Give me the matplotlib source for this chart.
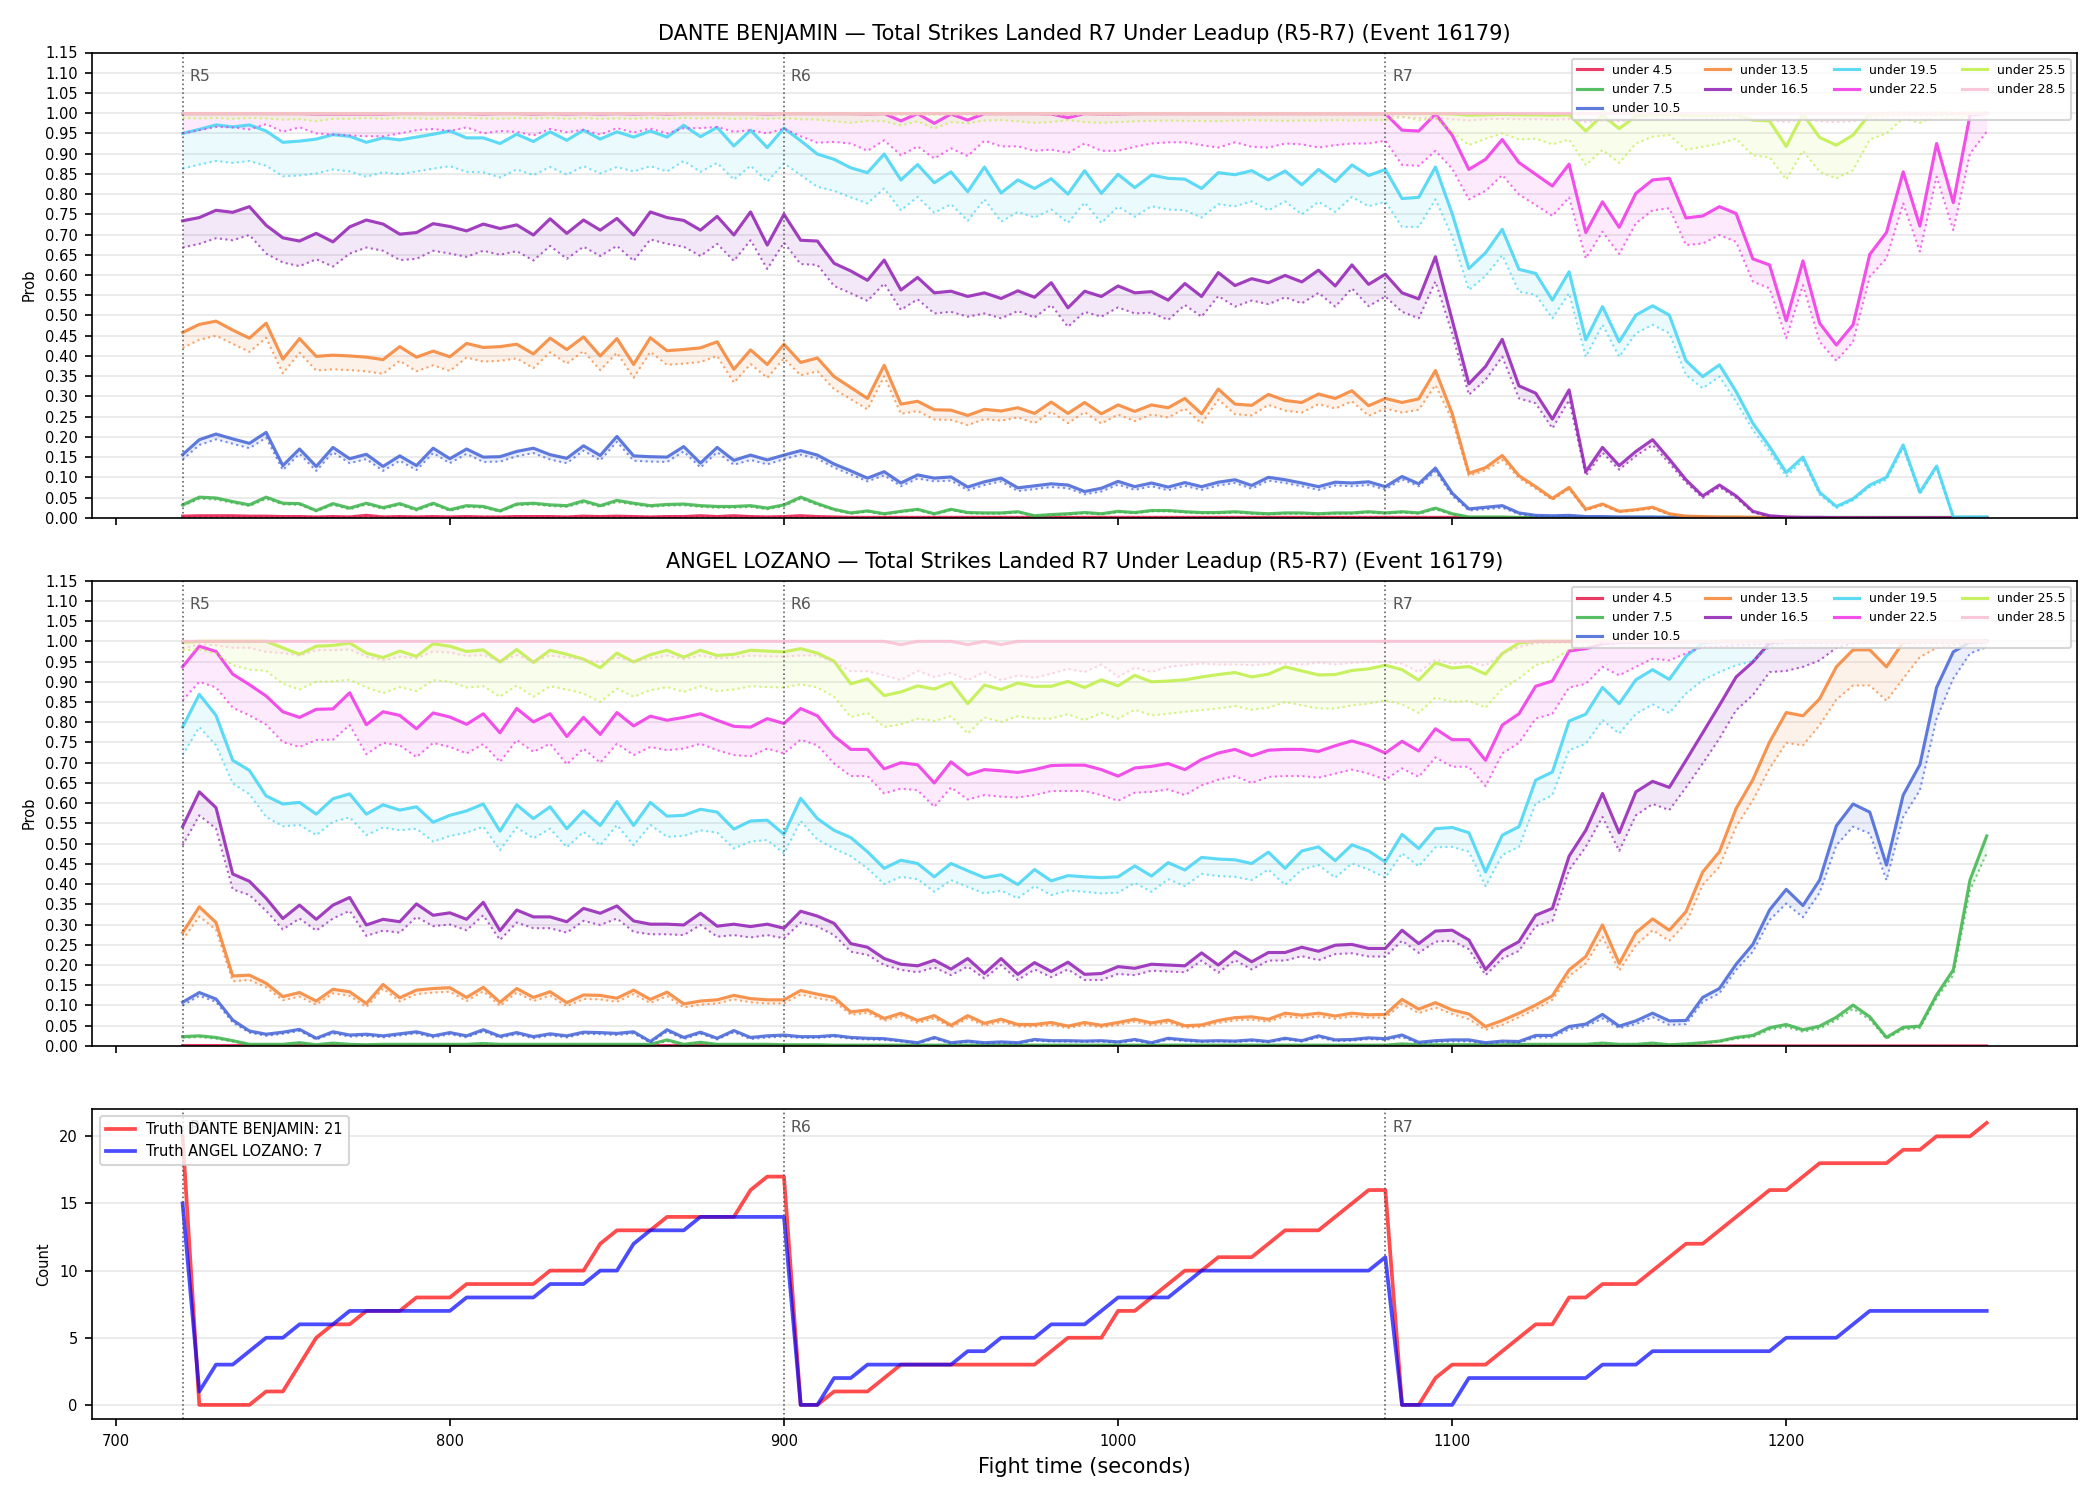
import numpy as np
import matplotlib.pyplot as plt
from matplotlib import rcParams
from matplotlib.ticker import FormatStrFormatter

rcParams.update({'font.size': 7, 'axes.axisbelow': True})

TIMES = list(range(720, 1261, 5))
ROUND_STARTS = [720, 900, 1080]
ROUND_NAMES = ['R5', 'R6', 'R7']
LINES = ['4.5', '7.5', '10.5', '13.5', '16.5', '19.5', '22.5', '25.5', '28.5']
COLORS = ['#e6194b', '#3cb44b', '#4363d8', '#f58231', '#911eb4',
          '#42d4f4', '#f032e6', '#bfef45', '#fabed4']
EVENT = 'Total Strikes Landed R7 Under Leadup (R5-R7) (Event 16179)'

# ---------------- DANTE BENJAMIN (model prob, solid) / lower (dotted) ----------------
d_u45 = ([0.004, 0.005, 0.005, 0.005, 0.004, 0.004, 0.003, 0.003, 0.002, 0.003, 0.002, 0.006, 0.002,
          0.003, 0.002, 0.003, 0.002, 0.003, 0.002, 0.002, 0.003, 0.003, 0.003, 0.002, 0.004, 0.003,
          0.004, 0.003, 0.002, 0.003, 0.003, 0.005, 0.003, 0.005, 0.003, 0.002, 0.003]
         + [0.005, 0.003, 0.002] + [0.001] * 33 + [0.001] * 4 + [0.0] * 32)
d_u45_lo = [0.002] * 37 + [0.001] * 36 + [0.0] * 36

d_u75 = [0.032, 0.051, 0.049, 0.040, 0.032, 0.051, 0.036, 0.035, 0.018, 0.035, 0.024, 0.036, 0.025,
         0.035, 0.021, 0.036, 0.020, 0.030, 0.028, 0.017, 0.034, 0.036, 0.032, 0.030, 0.042, 0.030,
         0.043, 0.036, 0.030, 0.033, 0.034, 0.030, 0.028, 0.028, 0.030, 0.024, 0.032,
         0.051, 0.035, 0.021, 0.012, 0.017, 0.010, 0.016, 0.021, 0.010, 0.021, 0.013, 0.012, 0.012,
         0.015, 0.005, 0.008, 0.010, 0.013, 0.010, 0.016, 0.013, 0.018, 0.018, 0.015, 0.013, 0.013,
         0.015, 0.012, 0.010, 0.012, 0.012, 0.010, 0.012, 0.012, 0.015, 0.012,
         0.015, 0.012, 0.024, 0.010, 0.002, 0.002, 0.002] + [0.001] * 29
d_u75_lo = [0.029, 0.047, 0.045, 0.037, 0.029, 0.047, 0.033, 0.032, 0.016, 0.032, 0.021, 0.033, 0.022,
            0.032, 0.018, 0.033, 0.017, 0.027, 0.025, 0.015, 0.031, 0.033, 0.029, 0.027, 0.038, 0.027,
            0.039, 0.033, 0.027, 0.030, 0.031, 0.027, 0.025, 0.025, 0.027, 0.021, 0.029,
            0.047, 0.032, 0.019, 0.010, 0.015, 0.008, 0.014, 0.019, 0.008, 0.019, 0.011, 0.010, 0.010,
            0.013, 0.004, 0.006, 0.008, 0.011, 0.008, 0.014, 0.011, 0.016, 0.016, 0.013, 0.011, 0.011,
            0.013, 0.010, 0.008, 0.010, 0.010, 0.008, 0.010, 0.010, 0.013, 0.010,
            0.013, 0.010, 0.021, 0.008, 0.001, 0.001, 0.001] + [0.0] * 29

d_u105 = [0.156, 0.193, 0.207, 0.195, 0.184, 0.211, 0.129, 0.170, 0.127, 0.174,
          0.146, 0.157, 0.127, 0.153, 0.129, 0.172, 0.146, 0.170, 0.150, 0.151,
          0.164, 0.172, 0.156, 0.147, 0.178, 0.154, 0.201, 0.153, 0.151, 0.150,
          0.176, 0.135, 0.174, 0.142, 0.155, 0.143, 0.155,
          0.166, 0.155, 0.133, 0.116, 0.098, 0.114, 0.086, 0.106, 0.098, 0.101,
          0.076, 0.089, 0.098, 0.074, 0.079, 0.084, 0.081, 0.065, 0.073, 0.090,
          0.077, 0.086, 0.076, 0.087, 0.077, 0.088, 0.094, 0.080, 0.100, 0.094,
          0.086, 0.077, 0.088, 0.086, 0.089, 0.077,
          0.102, 0.084, 0.123, 0.061, 0.022, 0.026, 0.030, 0.012, 0.006, 0.005,
          0.006, 0.003, 0.003, 0.002, 0.002, 0.002, 0.001, 0.001, 0.001] + [0.0] * 17
d_u105_lo = [0.144, 0.180, 0.194, 0.183, 0.172, 0.198, 0.118, 0.158, 0.116, 0.162,
             0.135, 0.145, 0.116, 0.141, 0.118, 0.160, 0.135, 0.158, 0.138, 0.139,
             0.152, 0.160, 0.144, 0.135, 0.166, 0.142, 0.188, 0.141, 0.139, 0.138,
             0.164, 0.124, 0.162, 0.131, 0.143, 0.132, 0.145,
             0.156, 0.146, 0.124, 0.107, 0.090, 0.105, 0.078, 0.097, 0.090, 0.092,
             0.068, 0.081, 0.090, 0.066, 0.071, 0.076, 0.073, 0.058, 0.065, 0.082,
             0.069, 0.078, 0.068, 0.079, 0.069, 0.080, 0.086, 0.072, 0.092, 0.086,
             0.078, 0.069, 0.080, 0.078, 0.081, 0.070,
             0.095, 0.078, 0.115, 0.055, 0.018, 0.021, 0.025, 0.009, 0.004, 0.003,
             0.004, 0.002, 0.002, 0.001, 0.001, 0.001, 0.0, 0.0, 0.0] + [0.0] * 17

d_u135 = [0.458, 0.478, 0.486, 0.464, 0.444, 0.481, 0.392, 0.443, 0.399, 0.402,
          0.400, 0.397, 0.391, 0.423, 0.397, 0.412, 0.398, 0.431, 0.421, 0.423,
          0.429, 0.405, 0.444, 0.416, 0.447, 0.400, 0.443, 0.379, 0.445, 0.413,
          0.416, 0.420, 0.435, 0.367, 0.415, 0.379, 0.429,
          0.384, 0.395, 0.349, 0.322, 0.295, 0.377, 0.281, 0.288, 0.267, 0.266,
          0.253, 0.268, 0.264, 0.272, 0.258, 0.286, 0.258, 0.285, 0.257, 0.279,
          0.263, 0.279, 0.272, 0.295, 0.257, 0.318, 0.281, 0.278, 0.305, 0.290,
          0.285, 0.306, 0.295, 0.314, 0.277, 0.295,
          0.285, 0.294, 0.364, 0.258, 0.110, 0.124, 0.154, 0.104, 0.077, 0.048,
          0.075, 0.021, 0.034, 0.016, 0.020, 0.026, 0.010, 0.004, 0.003, 0.002,
          0.002, 0.001, 0.001, 0.001] + [0.0] * 12
d_u135_lo = [0.420, 0.440, 0.450, 0.430, 0.410, 0.445, 0.357, 0.408, 0.364, 0.367,
             0.365, 0.362, 0.356, 0.388, 0.362, 0.377, 0.363, 0.396, 0.386, 0.388,
             0.394, 0.370, 0.409, 0.381, 0.412, 0.365, 0.408, 0.346, 0.410, 0.378,
             0.381, 0.385, 0.400, 0.334, 0.380, 0.346, 0.394,
             0.352, 0.362, 0.318, 0.293, 0.268, 0.350, 0.257, 0.264, 0.243, 0.242,
             0.229, 0.244, 0.240, 0.248, 0.234, 0.262, 0.234, 0.261, 0.233, 0.255,
             0.239, 0.255, 0.248, 0.270, 0.233, 0.292, 0.256, 0.253, 0.279, 0.265,
             0.260, 0.281, 0.270, 0.288, 0.252, 0.270,
             0.260, 0.267, 0.328, 0.242, 0.104, 0.117, 0.143, 0.098, 0.072, 0.044,
             0.071, 0.018, 0.031, 0.014, 0.018, 0.023, 0.008, 0.003, 0.002, 0.001,
             0.001] + [0.0] * 15

d_u165 = [0.734, 0.742, 0.760, 0.755, 0.769, 0.723, 0.692, 0.684, 0.703, 0.682,
          0.719, 0.736, 0.726, 0.701, 0.705, 0.727, 0.720, 0.709, 0.726, 0.715,
          0.724, 0.699, 0.739, 0.703, 0.736, 0.711, 0.740, 0.699, 0.756, 0.742,
          0.735, 0.711, 0.745, 0.699, 0.756, 0.674, 0.750,
          0.686, 0.684, 0.629, 0.610, 0.587, 0.637, 0.563, 0.594, 0.556, 0.560,
          0.547, 0.556, 0.542, 0.561, 0.545, 0.581, 0.519, 0.560, 0.547, 0.573,
          0.556, 0.559, 0.538, 0.579, 0.547, 0.606, 0.574, 0.591, 0.581, 0.599,
          0.583, 0.612, 0.573, 0.625, 0.577, 0.602,
          0.556, 0.541, 0.645, 0.489, 0.331, 0.374, 0.441, 0.326, 0.308, 0.244,
          0.316, 0.114, 0.174, 0.129, 0.164, 0.193, 0.145, 0.094, 0.054, 0.081,
          0.054, 0.016, 0.005, 0.002, 0.001, 0.001] + [0.0] * 10
d_u165_lo = [0.668, 0.677, 0.691, 0.686, 0.699, 0.653, 0.631, 0.622, 0.639, 0.621,
             0.653, 0.668, 0.660, 0.637, 0.640, 0.660, 0.653, 0.645, 0.660, 0.650,
             0.659, 0.636, 0.672, 0.640, 0.670, 0.647, 0.672, 0.635, 0.688, 0.677,
             0.670, 0.647, 0.677, 0.635, 0.686, 0.615, 0.680,
             0.627, 0.625, 0.573, 0.555, 0.536, 0.579, 0.514, 0.540, 0.505, 0.509,
             0.497, 0.505, 0.493, 0.511, 0.495, 0.526, 0.472, 0.509, 0.497, 0.520,
             0.505, 0.507, 0.489, 0.526, 0.497, 0.548, 0.522, 0.537, 0.528, 0.545,
             0.530, 0.556, 0.522, 0.567, 0.523, 0.547,
             0.509, 0.493, 0.584, 0.456, 0.304, 0.341, 0.398, 0.295, 0.283, 0.221,
             0.291, 0.104, 0.161, 0.119, 0.153, 0.180, 0.135, 0.087, 0.049, 0.076,
             0.049, 0.013, 0.003, 0.001] + [0.0] * 12

d_u195 = [0.950, 0.960, 0.971, 0.966, 0.971, 0.956, 0.928, 0.931, 0.936, 0.947,
          0.943, 0.928, 0.939, 0.934, 0.941, 0.948, 0.956, 0.939, 0.939, 0.925,
          0.948, 0.930, 0.954, 0.933, 0.958, 0.936, 0.954, 0.941, 0.956, 0.941,
          0.970, 0.942, 0.965, 0.919, 0.958, 0.915, 0.963,
          0.932, 0.899, 0.886, 0.865, 0.853, 0.899, 0.835, 0.873, 0.828, 0.855,
          0.806, 0.867, 0.803, 0.835, 0.814, 0.838, 0.800, 0.858, 0.802, 0.849,
          0.816, 0.847, 0.839, 0.837, 0.814, 0.853, 0.848, 0.858, 0.835, 0.857,
          0.823, 0.861, 0.831, 0.872, 0.846, 0.861,
          0.789, 0.792, 0.867, 0.752, 0.616, 0.655, 0.713, 0.614, 0.604, 0.538,
          0.608, 0.440, 0.522, 0.435, 0.501, 0.524, 0.501, 0.388, 0.349, 0.378,
          0.312, 0.234, 0.176, 0.112, 0.150, 0.063, 0.028, 0.047, 0.081, 0.100,
          0.180, 0.063, 0.128, 0.002, 0.002, 0.002]
d_u195_lo = [0.863, 0.873, 0.882, 0.877, 0.882, 0.870, 0.844, 0.846, 0.851, 0.861,
             0.856, 0.843, 0.854, 0.849, 0.856, 0.863, 0.869, 0.855, 0.854, 0.841,
             0.861, 0.847, 0.867, 0.848, 0.869, 0.851, 0.867, 0.856, 0.869, 0.856,
             0.882, 0.855, 0.877, 0.836, 0.870, 0.831, 0.876,
             0.847, 0.818, 0.808, 0.792, 0.777, 0.814, 0.760, 0.793, 0.754, 0.775,
             0.734, 0.787, 0.732, 0.756, 0.742, 0.762, 0.729, 0.779, 0.729, 0.769,
             0.744, 0.770, 0.762, 0.760, 0.742, 0.775, 0.770, 0.782, 0.760, 0.782,
             0.750, 0.781, 0.756, 0.793, 0.770, 0.781,
             0.719, 0.719, 0.787, 0.695, 0.563, 0.598, 0.649, 0.559, 0.551, 0.493,
             0.555, 0.398, 0.477, 0.398, 0.456, 0.477, 0.456, 0.353, 0.320, 0.349,
             0.287, 0.217, 0.164, 0.102, 0.142, 0.057, 0.024, 0.043, 0.076, 0.094,
             0.172, 0.059, 0.123, 0.001, 0.001, 0.001]

d_u225 = [0.999, 0.999, 0.999, 0.999, 0.999, 0.999, 0.999, 0.999, 0.998, 0.998,
          0.998, 0.998, 0.998, 0.999, 0.999, 0.999, 0.999, 0.999, 0.998, 0.999,
          0.999, 0.998, 0.999, 0.998, 0.999, 0.998, 0.999, 0.998, 0.999, 0.998,
          0.999, 0.999, 0.999, 0.999, 0.999, 0.998, 0.999,
          0.999, 0.999, 0.999, 0.999, 0.998, 0.999, 0.981, 0.999, 0.975, 0.998,
          0.983, 0.999, 0.999, 0.999, 0.999, 0.998, 0.989, 0.999, 0.998, 0.998,
          0.999, 0.999, 0.999, 0.999, 0.999, 0.999, 0.999, 0.999, 0.999, 0.999,
          0.999, 0.999, 0.999, 0.999, 0.999, 0.999,
          0.958, 0.956, 0.998, 0.946, 0.861, 0.886, 0.935, 0.878, 0.849, 0.820,
          0.874, 0.705, 0.781, 0.718, 0.802, 0.835, 0.839, 0.741, 0.746, 0.769,
          0.752, 0.640, 0.625, 0.487, 0.635, 0.481, 0.427, 0.477, 0.651, 0.705,
          0.855, 0.721, 0.925, 0.779, 0.995, 1.000]
d_u225_lo = [0.950, 0.958, 0.966, 0.965, 0.960, 0.973, 0.954, 0.965, 0.950, 0.947,
             0.945, 0.943, 0.943, 0.950, 0.958, 0.961, 0.956, 0.965, 0.950, 0.956,
             0.954, 0.945, 0.961, 0.953, 0.959, 0.947, 0.963, 0.952, 0.962, 0.950,
             0.963, 0.963, 0.966, 0.954, 0.958, 0.950, 0.962,
             0.943, 0.927, 0.929, 0.925, 0.907, 0.933, 0.896, 0.918, 0.888, 0.913,
             0.894, 0.932, 0.918, 0.918, 0.907, 0.910, 0.902, 0.925, 0.907, 0.907,
             0.917, 0.925, 0.928, 0.928, 0.921, 0.915, 0.928, 0.917, 0.915, 0.925,
             0.923, 0.915, 0.921, 0.925, 0.925, 0.932,
             0.872, 0.870, 0.907, 0.863, 0.787, 0.808, 0.847, 0.799, 0.773, 0.746,
             0.792, 0.641, 0.707, 0.652, 0.728, 0.760, 0.765, 0.674, 0.678, 0.699,
             0.682, 0.584, 0.567, 0.444, 0.575, 0.435, 0.388, 0.435, 0.596, 0.641,
             0.777, 0.658, 0.843, 0.711, 0.900, 0.954]

d_u255 = ([0.999] * 37 + [0.999] * 36
          + [0.999, 0.999, 0.999, 0.998, 0.995, 0.996, 0.997, 0.996, 0.996, 0.995,
             0.996, 0.956, 0.995, 0.962, 0.993, 0.996, 0.997, 0.994, 0.994, 0.995,
             0.996, 0.983, 0.981, 0.918, 0.998, 0.940, 0.921, 0.946, 0.998, 0.999,
             1.000, 0.999, 1.000, 0.999, 1.000, 1.000])
d_u255_lo = [0.988, 0.987, 0.988, 0.986, 0.988, 0.987, 0.984, 0.985, 0.980, 0.986,
             0.986, 0.988, 0.986, 0.988, 0.987, 0.986, 0.988, 0.988, 0.987, 0.986,
             0.988, 0.987, 0.988, 0.986, 0.988, 0.986, 0.987, 0.986, 0.988, 0.986,
             0.988, 0.987, 0.988, 0.986, 0.987, 0.986, 0.988,
             0.985, 0.984, 0.980, 0.976, 0.981, 0.980, 0.970, 0.980, 0.962, 0.978,
             0.975, 0.982, 0.983, 0.980, 0.976, 0.978, 0.983, 0.978, 0.976, 0.978,
             0.980, 0.981, 0.982, 0.981, 0.981, 0.980, 0.982, 0.983, 0.982, 0.981,
             0.982, 0.982, 0.983, 0.982, 0.983, 0.983,
             0.991, 0.983, 0.987, 0.954, 0.921, 0.937, 0.950, 0.935, 0.937, 0.923,
             0.935, 0.872, 0.909, 0.877, 0.925, 0.942, 0.946, 0.910, 0.917, 0.925,
             0.937, 0.896, 0.891, 0.836, 0.907, 0.855, 0.839, 0.859, 0.935, 0.950,
             0.987, 0.976, 0.995, 0.984, 0.995, 0.999]

d_u285 = [1.0] * 109
d_u285_lo = ([0.998] * 37 + [0.996] * 36
             + [0.990, 0.988, 0.990, 0.985, 0.982, 0.985, 0.986, 0.985, 0.985, 0.984,
                0.985, 0.978, 0.982, 0.980, 0.985, 0.987, 0.988, 0.985, 0.986, 0.987,
                0.988, 0.984, 0.983, 0.978, 0.985, 0.980, 0.978, 0.980, 0.988, 0.990,
                0.995, 0.993, 0.997, 0.995, 0.998, 0.999])

# ---------------- ANGEL LOZANO ----------------
a_u45 = [0.001] * 37 + [0.0] * 72
a_u45_lo = [0.0] * 109

a_u75 = [0.023, 0.025, 0.021, 0.013, 0.004, 0.004, 0.004, 0.008, 0.003, 0.007,
         0.004, 0.003, 0.004, 0.004, 0.004, 0.004, 0.004, 0.004, 0.006, 0.004,
         0.004, 0.004, 0.004, 0.004, 0.004, 0.004, 0.004, 0.004, 0.004, 0.015,
         0.004, 0.009, 0.004, 0.004, 0.004, 0.004, 0.003,
         0.003, 0.003, 0.002, 0.002] + [0.002] * 32 + [
         0.005, 0.003, 0.003, 0.003, 0.003, 0.003, 0.003, 0.004, 0.004, 0.004,
         0.004, 0.004, 0.007, 0.004, 0.004, 0.007, 0.003, 0.005, 0.008, 0.012,
         0.021, 0.026, 0.045, 0.053, 0.040, 0.049, 0.071, 0.101, 0.072, 0.021,
         0.046, 0.049, 0.126, 0.188, 0.410, 0.519]
a_u75_lo = [0.020, 0.022, 0.018, 0.011, 0.003, 0.003, 0.003, 0.006, 0.002, 0.005,
            0.003, 0.002, 0.003, 0.003, 0.003, 0.003, 0.003, 0.003, 0.005, 0.003,
            0.003, 0.003, 0.003, 0.003, 0.003, 0.003, 0.003, 0.003, 0.003, 0.012,
            0.003, 0.007, 0.003, 0.003, 0.003, 0.003, 0.002] + [0.002] * 36 + [
            0.004, 0.002, 0.002, 0.002, 0.002, 0.002, 0.002, 0.003, 0.003, 0.003,
            0.003, 0.003, 0.006, 0.003, 0.003, 0.006, 0.002, 0.004, 0.007, 0.010,
            0.018, 0.022, 0.040, 0.047, 0.035, 0.043, 0.064, 0.092, 0.065, 0.018,
            0.041, 0.044, 0.118, 0.175, 0.385, 0.476]

a_u105 = [0.108, 0.132, 0.116, 0.064, 0.037, 0.029, 0.034, 0.041, 0.019, 0.035,
          0.027, 0.029, 0.025, 0.030, 0.035, 0.025, 0.033, 0.025, 0.040, 0.024,
          0.033, 0.023, 0.030, 0.025, 0.034, 0.033, 0.031, 0.035, 0.011, 0.040,
          0.021, 0.034, 0.019, 0.038, 0.021, 0.025, 0.027,
          0.023, 0.023, 0.026, 0.021, 0.019, 0.018, 0.013, 0.008, 0.021, 0.008,
          0.012, 0.008, 0.010, 0.008, 0.016, 0.013, 0.013, 0.012, 0.013, 0.010,
          0.016, 0.008, 0.019, 0.015, 0.012, 0.013, 0.012, 0.015, 0.011, 0.019,
          0.013, 0.025, 0.015, 0.016, 0.020, 0.018,
          0.027, 0.009, 0.013, 0.015, 0.015, 0.008, 0.012, 0.011, 0.026, 0.026,
          0.048, 0.054, 0.078, 0.049, 0.062, 0.081, 0.062, 0.063, 0.120, 0.142,
          0.202, 0.251, 0.336, 0.387, 0.347, 0.410, 0.544, 0.598, 0.578, 0.447,
          0.620, 0.695, 0.886, 0.974, 0.998, 1.000]
a_u105_lo = [0.100, 0.124, 0.109, 0.058, 0.033, 0.025, 0.030, 0.037, 0.016, 0.031,
             0.023, 0.025, 0.021, 0.026, 0.031, 0.021, 0.029, 0.021, 0.036, 0.020,
             0.029, 0.019, 0.026, 0.021, 0.030, 0.029, 0.027, 0.031, 0.008, 0.036,
             0.017, 0.030, 0.016, 0.034, 0.017, 0.021, 0.023,
             0.020, 0.020, 0.023, 0.018, 0.016, 0.015, 0.011, 0.006, 0.018, 0.006,
             0.010, 0.006, 0.008, 0.006, 0.013, 0.011, 0.011, 0.010, 0.011, 0.008,
             0.013, 0.006, 0.016, 0.012, 0.010, 0.011, 0.010, 0.012, 0.009, 0.016,
             0.011, 0.021, 0.012, 0.013, 0.017, 0.015,
             0.022, 0.006, 0.010, 0.011, 0.011, 0.006, 0.009, 0.008, 0.021, 0.021,
             0.041, 0.048, 0.068, 0.044, 0.054, 0.071, 0.052, 0.054, 0.109, 0.130,
             0.188, 0.233, 0.311, 0.352, 0.318, 0.379, 0.496, 0.542, 0.525, 0.410,
             0.566, 0.632, 0.809, 0.908, 0.970, 0.986]

a_u135 = [0.280, 0.344, 0.305, 0.173, 0.175, 0.155, 0.122, 0.132, 0.111, 0.140,
          0.134, 0.105, 0.152, 0.119, 0.138, 0.142, 0.144, 0.120, 0.145, 0.108,
          0.142, 0.120, 0.134, 0.107, 0.126, 0.125, 0.118, 0.138, 0.115, 0.133,
          0.104, 0.111, 0.114, 0.125, 0.117, 0.114, 0.114,
          0.137, 0.128, 0.120, 0.084, 0.089, 0.068, 0.081, 0.063, 0.075, 0.051,
          0.075, 0.056, 0.066, 0.053, 0.053, 0.058, 0.049, 0.058, 0.051, 0.058,
          0.066, 0.057, 0.064, 0.050, 0.052, 0.063, 0.070, 0.072, 0.066, 0.081,
          0.076, 0.081, 0.074, 0.081, 0.077, 0.078,
          0.115, 0.091, 0.107, 0.089, 0.079, 0.048, 0.063, 0.081, 0.101, 0.124,
          0.188, 0.221, 0.299, 0.204, 0.280, 0.314, 0.286, 0.332, 0.430, 0.480,
          0.587, 0.658, 0.751, 0.824, 0.816, 0.858, 0.937, 0.979, 0.979, 0.937,
          0.998, 1.000, 1.000, 1.000, 1.000, 1.000]
a_u135_lo = [0.262, 0.320, 0.287, 0.160, 0.163, 0.145, 0.113, 0.122, 0.102, 0.130,
             0.124, 0.096, 0.142, 0.110, 0.128, 0.132, 0.134, 0.111, 0.135, 0.099,
             0.132, 0.111, 0.124, 0.098, 0.116, 0.115, 0.109, 0.128, 0.106, 0.123,
             0.095, 0.102, 0.105, 0.115, 0.108, 0.105, 0.105,
             0.127, 0.118, 0.111, 0.077, 0.082, 0.062, 0.074, 0.057, 0.068, 0.046,
             0.068, 0.050, 0.060, 0.048, 0.048, 0.052, 0.044, 0.052, 0.046, 0.052,
             0.060, 0.051, 0.058, 0.045, 0.047, 0.057, 0.063, 0.065, 0.060, 0.073,
             0.069, 0.073, 0.067, 0.073, 0.070, 0.070,
             0.104, 0.081, 0.095, 0.079, 0.066, 0.040, 0.052, 0.071, 0.091, 0.114,
             0.173, 0.204, 0.270, 0.186, 0.249, 0.286, 0.260, 0.303, 0.398, 0.443,
             0.542, 0.607, 0.686, 0.749, 0.743, 0.793, 0.856, 0.891, 0.891, 0.853,
             0.908, 0.961, 0.984, 0.990, 0.995, 0.996]

a_u165 = [0.542, 0.628, 0.589, 0.425, 0.407, 0.365, 0.315, 0.348, 0.313, 0.348,
          0.367, 0.299, 0.313, 0.307, 0.351, 0.323, 0.329, 0.313, 0.355, 0.285,
          0.336, 0.319, 0.319, 0.307, 0.340, 0.328, 0.346, 0.309, 0.301, 0.301,
          0.299, 0.328, 0.296, 0.301, 0.295, 0.301, 0.291,
          0.333, 0.321, 0.303, 0.253, 0.244, 0.216, 0.202, 0.198, 0.212, 0.190,
          0.216, 0.179, 0.216, 0.177, 0.206, 0.184, 0.207, 0.177, 0.179, 0.196,
          0.192, 0.202, 0.200, 0.198, 0.230, 0.200, 0.233, 0.208, 0.231, 0.231,
          0.244, 0.234, 0.249, 0.251, 0.241, 0.241,
          0.286, 0.253, 0.284, 0.286, 0.262, 0.189, 0.235, 0.258, 0.323, 0.340,
          0.469, 0.533, 0.624, 0.527, 0.628, 0.654, 0.639, 0.706, 0.774, 0.842,
          0.912, 0.949, 0.996] + [1.0] * 13
a_u165_lo = [0.496, 0.570, 0.537, 0.387, 0.373, 0.334, 0.288, 0.315, 0.285, 0.315,
             0.334, 0.272, 0.285, 0.280, 0.319, 0.296, 0.300, 0.286, 0.323, 0.262,
             0.305, 0.291, 0.291, 0.280, 0.309, 0.299, 0.315, 0.282, 0.276, 0.276,
             0.274, 0.299, 0.270, 0.274, 0.268, 0.274, 0.266,
             0.305, 0.295, 0.274, 0.233, 0.225, 0.200, 0.188, 0.182, 0.194, 0.175,
             0.196, 0.167, 0.200, 0.163, 0.189, 0.170, 0.189, 0.163, 0.163, 0.178,
             0.175, 0.186, 0.184, 0.182, 0.211, 0.181, 0.212, 0.189, 0.211, 0.211,
             0.222, 0.212, 0.227, 0.229, 0.221, 0.221,
             0.260, 0.230, 0.258, 0.260, 0.239, 0.175, 0.216, 0.235, 0.296, 0.309,
             0.435, 0.492, 0.566, 0.482, 0.570, 0.598, 0.583, 0.639, 0.698, 0.760,
             0.830, 0.867, 0.924, 0.927, 0.937, 0.953, 0.984, 0.995, 0.997, 0.998,
             0.998, 0.999, 0.999, 0.999, 0.999, 0.999]

a_u195 = [0.788, 0.869, 0.817, 0.706, 0.681, 0.618, 0.598, 0.602, 0.573, 0.611,
          0.623, 0.573, 0.596, 0.583, 0.591, 0.553, 0.570, 0.581, 0.598, 0.531,
          0.596, 0.562, 0.591, 0.537, 0.581, 0.545, 0.604, 0.545, 0.602, 0.568,
          0.570, 0.585, 0.578, 0.536, 0.556, 0.558, 0.523,
          0.612, 0.562, 0.533, 0.515, 0.480, 0.439, 0.459, 0.451, 0.418, 0.451,
          0.433, 0.416, 0.423, 0.399, 0.436, 0.408, 0.421, 0.418, 0.416, 0.418,
          0.445, 0.420, 0.453, 0.435, 0.466, 0.462, 0.460, 0.451, 0.479, 0.439,
          0.482, 0.492, 0.458, 0.497, 0.482, 0.455,
          0.523, 0.488, 0.537, 0.540, 0.527, 0.430, 0.521, 0.542, 0.657, 0.677,
          0.803, 0.820, 0.886, 0.846, 0.905, 0.930, 0.906, 0.963, 0.996] + [1.0] * 17
a_u195_lo = [0.719, 0.788, 0.743, 0.649, 0.622, 0.566, 0.543, 0.546, 0.521, 0.554,
             0.565, 0.521, 0.540, 0.533, 0.537, 0.505, 0.519, 0.527, 0.542, 0.484,
             0.540, 0.513, 0.537, 0.491, 0.529, 0.496, 0.546, 0.496, 0.546, 0.517,
             0.519, 0.533, 0.527, 0.488, 0.505, 0.509, 0.476,
             0.556, 0.510, 0.488, 0.469, 0.439, 0.400, 0.418, 0.412, 0.381, 0.410,
             0.393, 0.377, 0.384, 0.365, 0.395, 0.373, 0.384, 0.381, 0.377, 0.379,
             0.403, 0.381, 0.412, 0.395, 0.425, 0.420, 0.418, 0.410, 0.436, 0.398,
             0.436, 0.447, 0.416, 0.451, 0.436, 0.416,
             0.476, 0.444, 0.491, 0.492, 0.480, 0.395, 0.472, 0.492, 0.599, 0.620,
             0.731, 0.747, 0.805, 0.772, 0.821, 0.844, 0.823, 0.871, 0.904, 0.924,
             0.941, 0.951, 0.986, 0.996] + [0.997] * 12

a_u225 = [0.937, 0.988, 0.975, 0.919, 0.893, 0.865, 0.826, 0.812, 0.832, 0.833,
          0.873, 0.794, 0.826, 0.817, 0.784, 0.823, 0.813, 0.795, 0.821, 0.774,
          0.834, 0.801, 0.821, 0.765, 0.812, 0.770, 0.824, 0.791, 0.815, 0.805,
          0.812, 0.821, 0.805, 0.790, 0.788, 0.809, 0.797,
          0.834, 0.816, 0.766, 0.733, 0.733, 0.685, 0.700, 0.695, 0.650, 0.702,
          0.670, 0.683, 0.680, 0.676, 0.683, 0.693, 0.694, 0.694, 0.683, 0.667,
          0.687, 0.691, 0.698, 0.683, 0.708, 0.724, 0.733, 0.717, 0.731, 0.733,
          0.733, 0.728, 0.742, 0.754, 0.742, 0.724,
          0.753, 0.729, 0.784, 0.757, 0.757, 0.706, 0.793, 0.821, 0.889, 0.902,
          0.976, 0.982, 0.994, 0.997, 0.998, 0.998, 0.999, 0.999, 0.999, 0.999] + [1.0] * 16
a_u225_lo = [0.854, 0.900, 0.886, 0.836, 0.817, 0.794, 0.751, 0.739, 0.756, 0.757,
             0.793, 0.721, 0.749, 0.743, 0.714, 0.749, 0.739, 0.723, 0.746, 0.702,
             0.756, 0.727, 0.747, 0.696, 0.735, 0.700, 0.747, 0.719, 0.739, 0.731,
             0.735, 0.747, 0.731, 0.719, 0.716, 0.735, 0.723,
             0.757, 0.743, 0.698, 0.667, 0.667, 0.624, 0.636, 0.632, 0.591, 0.639,
             0.609, 0.620, 0.616, 0.614, 0.620, 0.630, 0.630, 0.630, 0.620, 0.606,
             0.626, 0.628, 0.634, 0.620, 0.644, 0.658, 0.667, 0.650, 0.665, 0.667,
             0.667, 0.663, 0.673, 0.683, 0.673, 0.658,
             0.686, 0.665, 0.713, 0.690, 0.690, 0.642, 0.723, 0.749, 0.809, 0.821,
             0.886, 0.895, 0.937, 0.916, 0.937, 0.957, 0.953, 0.970, 0.986, 0.986,
             0.990, 0.992, 0.994, 0.995] + [0.996] * 12

a_u255 = [0.998, 1.000, 1.000, 1.000, 1.000, 1.000, 0.984, 0.968, 0.988, 0.990,
          0.996, 0.971, 0.960, 0.976, 0.963, 0.994, 0.988, 0.975, 0.979, 0.949,
          0.980, 0.948, 0.978, 0.968, 0.956, 0.935, 0.971, 0.949, 0.967, 0.978,
          0.961, 0.978, 0.965, 0.968, 0.978, 0.976, 0.974,
          0.982, 0.971, 0.951, 0.895, 0.907, 0.866, 0.875, 0.890, 0.882, 0.899,
          0.846, 0.892, 0.881, 0.897, 0.889, 0.889, 0.901, 0.886, 0.905, 0.890,
          0.916, 0.900, 0.902, 0.905, 0.912, 0.918, 0.923, 0.912, 0.919, 0.937,
          0.927, 0.917, 0.918, 0.928, 0.932, 0.941,
          0.930, 0.904, 0.947, 0.934, 0.938, 0.919, 0.970, 0.996] + [1.0] * 28
a_u255_lo = [0.978, 0.980, 0.970, 0.941, 0.930, 0.927, 0.895, 0.881, 0.900, 0.901,
             0.905, 0.886, 0.872, 0.887, 0.877, 0.904, 0.900, 0.886, 0.889, 0.863,
             0.891, 0.863, 0.889, 0.881, 0.871, 0.850, 0.883, 0.863, 0.879, 0.887,
             0.875, 0.889, 0.877, 0.881, 0.889, 0.887, 0.886,
             0.894, 0.886, 0.863, 0.813, 0.823, 0.788, 0.795, 0.809, 0.803, 0.815,
             0.772, 0.812, 0.801, 0.815, 0.809, 0.809, 0.820, 0.805, 0.823, 0.809,
             0.831, 0.817, 0.821, 0.826, 0.830, 0.834, 0.840, 0.831, 0.836, 0.850,
             0.842, 0.834, 0.834, 0.842, 0.846, 0.854,
             0.844, 0.823, 0.861, 0.850, 0.853, 0.836, 0.883, 0.908, 0.941, 0.953,
             0.978, 0.990, 0.995] + [0.997] * 23

a_u285 = ([1.0] * 37
          + [1.0, 1.0, 1.0, 1.0, 1.0, 1.0, 0.992, 1.0, 1.0, 1.0, 0.992, 1.0, 0.992] + [1.0] * 23
          + [1.0] * 36)
a_u285_lo = [0.982, 0.993, 0.990, 0.984, 0.984, 0.974, 0.971, 0.965, 0.978, 0.978,
             0.980, 0.962, 0.953, 0.962, 0.958, 0.975, 0.972, 0.964, 0.966, 0.950,
             0.966, 0.950, 0.965, 0.960, 0.955, 0.949, 0.960, 0.950, 0.958, 0.965,
             0.956, 0.965, 0.958, 0.960, 0.965, 0.963, 0.962,
             0.965, 0.965, 0.949, 0.926, 0.926, 0.916, 0.904, 0.927, 0.912, 0.922,
             0.904, 0.924, 0.904, 0.916, 0.910, 0.920, 0.932, 0.924, 0.943, 0.912,
             0.935, 0.924, 0.937, 0.941, 0.945, 0.943, 0.943, 0.941, 0.945, 0.945,
             0.943, 0.947, 0.943, 0.947, 0.949, 0.949,
             0.945, 0.924, 0.955, 0.945, 0.948, 0.940, 0.970, 0.986, 0.995] + [0.997] * 27

# ---------------- running truth counts ----------------
truth_dante = [20, 0, 0, 0, 0, 1, 1, 3, 5, 6, 6, 7, 7, 7, 8, 8, 8, 9, 9, 9, 9, 9,
               10, 10, 10, 12, 13, 13, 13, 14, 14, 14, 14, 14, 16, 17, 17,
               0, 0, 1, 1, 1, 2, 3, 3, 3, 3, 3, 3, 3, 3, 3, 4, 5, 5, 5, 7, 7, 8,
               9, 10, 10, 11, 11, 11, 12, 13, 13, 13, 14, 15, 16, 16,
               0, 0, 2, 3, 3, 3, 4, 5, 6, 6, 8, 8, 9, 9, 9, 10, 11, 12, 12, 13,
               14, 15, 16, 16, 17, 18, 18, 18, 18, 18, 19, 19, 20, 20, 20, 21]
truth_angel = [15, 1, 3, 3, 4, 5, 5, 6, 6, 6, 7, 7, 7, 7, 7, 7, 7, 8, 8, 8, 8, 8,
               9, 9, 9, 10, 10, 12, 13, 13, 13, 14, 14, 14, 14, 14, 14,
               0, 0, 2, 2, 3, 3, 3, 3, 3, 3, 4, 4, 5, 5, 5, 6, 6, 6, 7, 8, 8, 8,
               8, 9, 10, 10, 10, 10, 10, 10, 10, 10, 10, 10, 10, 11,
               0, 0, 0, 0, 2, 2, 2, 2, 2, 2, 2, 2, 3, 3, 3, 4, 4, 4, 4, 4, 4, 4,
               4, 5, 5, 5, 5, 6, 7, 7, 7, 7, 7, 7, 7, 7]

DANTE_HI = [d_u45, d_u75, d_u105, d_u135, d_u165, d_u195, d_u225, d_u255, d_u285]
DANTE_LO = [d_u45_lo, d_u75_lo, d_u105_lo, d_u135_lo, d_u165_lo, d_u195_lo, d_u225_lo,
            d_u255_lo, d_u285_lo]
ANGEL_HI = [a_u45, a_u75, a_u105, a_u135, a_u165, a_u195, a_u225, a_u255, a_u285]
ANGEL_LO = [a_u45_lo, a_u75_lo, a_u105_lo, a_u135_lo, a_u165_lo, a_u195_lo, a_u225_lo,
            a_u255_lo, a_u285_lo]


def mark_rounds(ax, names=ROUND_NAMES):
    for start, name in zip(ROUND_STARTS, names):
        ax.axvline(start, color='#555555', ls=':', lw=0.8, alpha=0.9)
        if name:
            ax.text(start + 2, 0.965, name, transform=ax.get_xaxis_transform(),
                    color='#555555', fontsize=7.5, va='top', ha='left')


def plot_fighter(ax, name, highs, lows):
    for line, col, hi, lo in zip(LINES, COLORS, highs, lows):
        n = min(len(TIMES), len(hi), len(lo))
        t = TIMES[:n]
        ax.fill_between(t, lo[:n], hi[:n], color=col, alpha=0.1, lw=0)
        ax.plot(t, hi[:n], color=col, lw=1.5, alpha=0.85, label='under ' + line)
        ax.plot(t, lo[:n], color=col, lw=1.0, ls=':', alpha=0.7)
    mark_rounds(ax)
    ax.set_ylim(0, 1.15)
    ax.set_yticks(np.arange(0, 1.151, 0.05))
    ax.yaxis.set_major_formatter(FormatStrFormatter('%.2f'))
    ax.set_ylabel('Prob')
    ax.set_title(name + ' \u2014 ' + EVENT, fontsize=10)
    ax.grid(axis='y', alpha=0.3)
    ax.legend(loc='upper right', ncol=4, fontsize=6)
    ax.tick_params(labelbottom=False)


fig = plt.figure(figsize=(14, 10), dpi=150)
gs = fig.add_gridspec(3, 1, height_ratios=[1.5, 1.5, 1], left=0.044, right=0.989,
                      top=0.965, bottom=0.054, hspace=0.152)
ax3 = fig.add_subplot(gs[2])
ax1 = fig.add_subplot(gs[0], sharex=ax3)
ax2 = fig.add_subplot(gs[1], sharex=ax3)

plot_fighter(ax1, 'DANTE BENJAMIN', DANTE_HI, DANTE_LO)
plot_fighter(ax2, 'ANGEL LOZANO', ANGEL_HI, ANGEL_LO)

n = min(len(TIMES), len(truth_dante))
ax3.plot(TIMES[:n], truth_dante[:n], color='red', lw=1.8, alpha=0.7,
         label='Truth DANTE BENJAMIN: %d' % truth_dante[-1])
n = min(len(TIMES), len(truth_angel))
ax3.plot(TIMES[:n], truth_angel[:n], color='blue', lw=1.8, alpha=0.7,
         label='Truth ANGEL LOZANO: %d' % truth_angel[-1])
mark_rounds(ax3)
ax3.set_ylabel('Count')
ax3.set_xlabel('Fight time (seconds)', fontsize=10)
ax3.grid(axis='y', alpha=0.3)
ax3.legend(loc='upper left', fontsize=7)

fig.savefig('out.png', dpi=150)
